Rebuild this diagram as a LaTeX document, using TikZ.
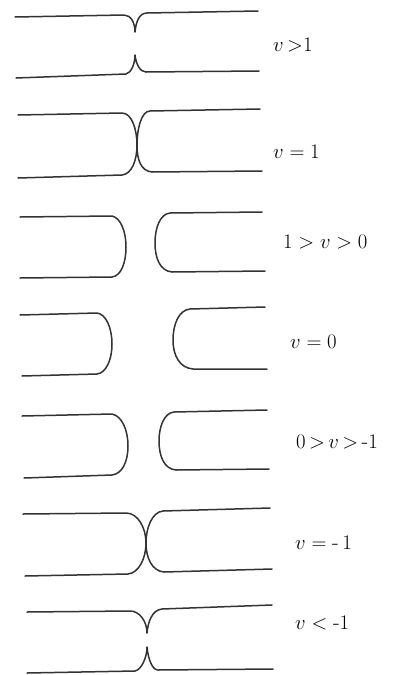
\documentclass[tikz,border=0pt]{standalone}
\usepackage{amsmath,amssymb}
\usepackage{tikz}
\usetikzlibrary{positioning}

\tikzset{
  curve/.style={line width=1.5pt, black!80, line cap=round, line join=round},
  lbl/.style={anchor=west, black, inner sep=0pt, font=\fontsize{22}{26}\selectfont}
}

\begin{document}
\begin{tikzpicture}[x=1pt, y=-1pt]
    \useasboundingbox (0,0) rectangle (392,675);
    % v > 1
    \draw[curve] (15,17) -- (124,15) .. controls (131,15) and (135,23) .. (135,32)
        .. controls (136,22) and (139,13) .. (147,13) -- (258,11);
    \draw[curve] (16,78) -- (126,74) .. controls (131,73) and (135,64) .. (135,55)
        .. controls (136,64) and (140,72) .. (146,72) -- (259,71);
    \node[lbl] (gt1) at (273,45) {$v\,{>}1$};
    % v = 1
    \draw[curve] (18,115) -- (122,113) .. controls (132,113) and (137,130) .. (137,145)
        .. controls (137,160) and (132,174) .. (122,175) -- (18,178);
    \draw[curve] (260,109) -- (150,111) .. controls (141,111) and (137,130) .. (137,145)
        .. controls (137,160) and (141,171) .. (152,172) -- (262,171);
    \node[lbl] (eq1) at (273,152) {$v = 1$};
    % 1 > v > 0
    \draw[curve] (20,217) -- (112,216) .. controls (121,218) and (126,232) .. (126,247)
        .. controls (126,263) and (121,276) .. (112,277) -- (20,278);
    \draw[curve] (262,212) -- (170,213) .. controls (160,214) and (155,228) .. (155,243)
        .. controls (155,258) and (160,271) .. (172,272) -- (265,271);
    \node[lbl] (btw10) at (283,242) {$1 > v > 0$};
    % v = 0
    \draw[curve] (20,315) -- (97,313) .. controls (106,314) and (112,328) .. (112,344)
        .. controls (112,360) and (106,373) .. (97,374) -- (22,376);
    \draw[curve] (265,307) -- (190,309) .. controls (179,310) and (173,324) .. (173,340)
        .. controls (173,356) and (180,368) .. (193,369) -- (267,369);
    \node[lbl] (eq0) at (290,342) {$v = 0$};
    % 0 > v > -1
    \draw[curve] (22,416) -- (112,414) .. controls (122,416) and (128,430) .. (128,446)
        .. controls (128,462) and (122,474) .. (112,475) -- (24,478);
    \draw[curve] (267,410) -- (174,412) .. controls (164,413) and (159,427) .. (159,441)
        .. controls (159,456) and (164,469) .. (176,470) -- (269,469);
    \node[lbl] (btw0m1) at (296,442) {$\thickmuskip=3mu 0 > v > \mbox{-}1$};
    % v = -1
    \draw[curve] (23,514) -- (126,513) .. controls (138,513) and (146,528) .. (146,543)
        .. controls (146,558) and (139,573) .. (128,574) -- (25,576);
    \draw[curve] (270,508) -- (163,511) .. controls (152,512) and (146,528) .. (146,543)
        .. controls (146,558) and (152,571) .. (164,572) -- (272,569);
    \node[lbl] (eqm1) at (295,543) {$v = \mbox{-}\,1$};
    % v < -1
    \draw[curve] (27,612) -- (130,611) .. controls (140,611) and (147,622) .. (147,633)
        .. controls (148,622) and (152,610) .. (162,609) -- (272,605);
    \draw[curve] (27,673) -- (135,671) .. controls (141,670) and (147,658) .. (147,647)
        .. controls (148,658) and (152,670) .. (158,670) -- (273,669);
    \node[lbl] (ltm1) at (295,623) {$v < \mbox{-}1$};
\end{tikzpicture}
\end{document}
